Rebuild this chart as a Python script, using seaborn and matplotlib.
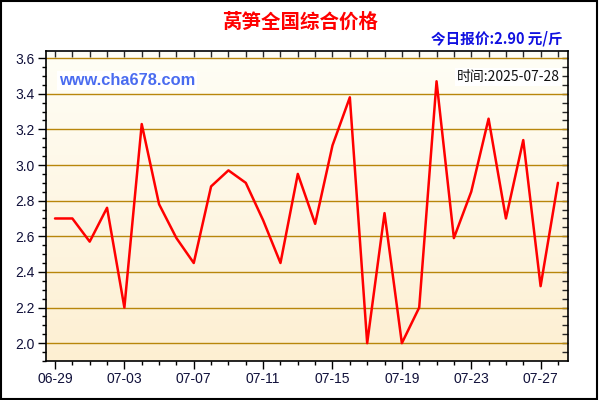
import numpy as np
import pandas as pd
import seaborn as sns
import matplotlib.pyplot as plt
from matplotlib.colors import LinearSegmentedColormap
from matplotlib.patches import Rectangle
from matplotlib.ticker import MultipleLocator

# ===== 数据 =====
dates = ['06-29', '06-30', '07-01', '07-02', '07-03', '07-04', '07-05', '07-06',
         '07-07', '07-08', '07-09', '07-10', '07-11', '07-12', '07-13', '07-14',
         '07-15', '07-16', '07-17', '07-18', '07-19', '07-20', '07-21', '07-22',
         '07-23', '07-24', '07-25', '07-26', '07-27', '07-28']
prices = [2.70, 2.70, 2.57, 2.76, 2.20, 3.23, 2.78, 2.59,
          2.45, 2.88, 2.97, 2.90, 2.69, 2.45, 2.95, 2.67,
          3.11, 3.38, 2.00, 2.73, 2.00, 2.20, 3.47, 2.59,
          2.85, 3.26, 2.70, 3.14, 2.32, 2.90]
y_ticks = [2.0, 2.2, 2.4, 2.6, 2.8, 3.0, 3.2, 3.4, 3.6]

df = pd.DataFrame({'day': np.arange(len(dates)), 'price': prices})

sns.set_style('ticks')
plt.rcParams['font.family'] = ['Liberation Sans', 'Noto Sans CJK SC', 'DejaVu Sans']
cjk = ['Noto Sans CJK SC', 'DejaVu Sans']

fig = plt.figure(figsize=(6, 4), dpi=100)
fig.patch.set_facecolor('white')
ax = fig.add_axes([46 / 600, 1 - 361 / 400, 522 / 600, 310 / 400])

x0, x1 = -0.52, len(dates) - 1 + 0.58
y0, y1 = 1.9, 3.64

# ===== 背景渐变 =====
grad = LinearSegmentedColormap.from_list('bg', ['#fdefd2', '#fffef6'])
ax.imshow(np.linspace(0, 1, 256).reshape(-1, 1), cmap=grad, origin='lower',
          extent=[x0, x1, y0, y1], aspect='auto', zorder=0)

# ===== 网格线 =====
for v in y_ticks:
    ax.axhline(v, color='#b8860b', linewidth=1.0, zorder=1)

sns.lineplot(data=df, x='day', y='price', color='#ff0000', linewidth=1.8,
             ax=ax, zorder=3)

ax.set_xlim(x0, x1)
ax.set_ylim(y0, y1)
ax.set_xlabel('')
ax.set_ylabel('')

ax.set_xticks(np.arange(0, len(dates), 4))
ax.set_xticklabels([dates[i] for i in range(0, len(dates), 4)])
ax.xaxis.set_minor_locator(MultipleLocator(1))
ax.set_yticks(y_ticks)
ax.set_yticklabels([f'{v:.1f}' for v in y_ticks])
ax.yaxis.set_minor_locator(MultipleLocator(0.05))

ax.tick_params(axis='both', which='major', direction='out', length=6, width=1,
               labelsize=10, labelcolor='#10103a', color='black', pad=2)
ax.tick_params(axis='both', which='minor', direction='out', length=3, width=1,
               color='black')

# 上、右两侧的刻度朝内
top = ax.secondary_xaxis('top')
top.set_xticks(np.arange(len(dates)))
top.tick_params(direction='in', length=4, width=1, labeltop=False)
top.set_xticklabels([])
right = ax.secondary_yaxis('right')
right.set_yticks(np.arange(1.95, 3.64, 0.05))
right.tick_params(direction='in', length=4, width=1, labelright=False)
right.set_yticklabels([])
right.spines['right'].set_visible(False)
top.spines['top'].set_visible(False)

for s in ax.spines.values():
    s.set_color('black')
    s.set_linewidth(1.2)

# ===== 文本 =====
fig.text(0.5, 1 - 22 / 400, '莴笋全国综合价格', ha='center', va='center',
         color='#ff0000', fontsize=14, fontweight='bold', family=cjk)
fig.text(563 / 600, 1 - 39 / 400, '今日报价:2.90 元/斤', ha='right', va='center',
         color='#1010e0', fontsize=10.5, fontweight='bold', family=cjk)
ax.text(0.025, 0.906, 'www.cha678.com', transform=ax.transAxes, ha='left',
        va='center', color='#4a6cf0', fontsize=11.8, fontweight='bold',
        bbox=dict(facecolor='white', edgecolor='none', pad=1.5), zorder=4)
ax.text(0.985, 0.916, '时间:2025-07-28', transform=ax.transAxes, ha='right',
        va='center', color='#111111', fontsize=10, family=cjk,
        bbox=dict(facecolor='white', edgecolor='none', pad=1.5), zorder=4)

# ===== 外框 =====
fig.patches.append(Rectangle((0.002, 0.003), 0.993, 0.994, transform=fig.transFigure,
                             fill=False, edgecolor='black', linewidth=1.5))

plt.savefig('out.png', dpi=100)
plt.close()
